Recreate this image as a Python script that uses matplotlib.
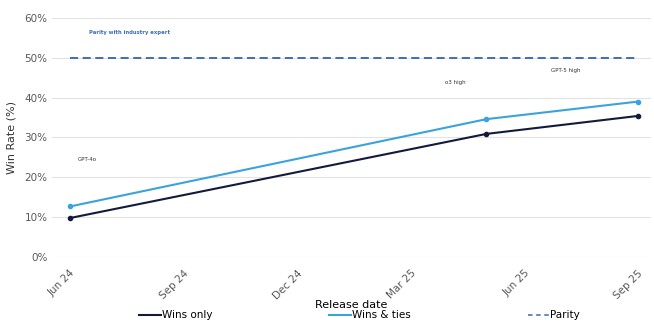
import matplotlib.pyplot as plt
from matplotlib.lines import Line2D
from matplotlib.ticker import FuncFormatter

# Months since Jun 24
months = [0, 11, 15]
models = ['GPT-4o', 'o3 high', 'GPT-5 high']
wins_only = [9.8, 30.9, 35.4]
wins_ties = [12.7, 34.6, 39.0]
parity = 50
tick_months = [0, 3, 6, 9, 12, 15]
tick_labels = ['Jun 24', 'Sep 24', 'Dec 24', 'Mar 25', 'Jun 25', 'Sep 25']

navy = '#141a3c'
light_blue = '#3ba3dc'
parity_blue = '#3462b0'
grey = '#595959'

fig = plt.figure(figsize=(6.54, 3.25), dpi=100)
ax = fig.add_axes([0.08, 0.209, 0.915, 0.736])

ax.plot(months, wins_only, color=navy, lw=1.5, marker='o', ms=3)
ax.plot(months, wins_ties, color=light_blue, lw=1.5, marker='o', ms=3)
ax.plot([months[0], months[-1]], [parity, parity], color=parity_blue, lw=1.3,
        ls=(0, (4.5, 2.5)))

# model labels
ax.text(0.2, 24.5, models[0], fontsize=4, color='#333333', ha='left', va='center')
ax.text(10.17, 43.7, models[1], fontsize=4, color='#333333', ha='center', va='center')
ax.text(13.1, 46.9, models[2], fontsize=4, color='#333333', ha='center', va='center')
ax.text(0.5, 56.3, 'Parity with industry expert', fontsize=3.8, color='#3a6cc0',
        fontweight='bold', ha='left', va='center')

ax.set_xlim(-0.47, 15.34)
ax.set_ylim(0, 60)
ax.set_yticks(range(0, 61, 10))
ax.yaxis.set_major_formatter(FuncFormatter(lambda v, p: f'{v:.0f}%'))
ax.set_xticks(tick_months)
ax.set_xticklabels(tick_labels, rotation=45, ha='right', rotation_mode='anchor')
ax.tick_params(axis='both', length=0, labelsize=7.5, labelcolor=grey)
ax.tick_params(axis='x', pad=8)
ax.grid(axis='y', color='#e3e3e3', lw=0.8)
ax.set_axisbelow(True)
for s in ax.spines.values():
    s.set_visible(False)

ax.set_ylabel('Win Rate (%)', fontsize=8, color='#333333', labelpad=6)
ax.set_xlabel('Release date', fontsize=8, color='black', labelpad=-1)

handles = [Line2D([], [], color=navy, lw=1.5),
           Line2D([], [], color=light_blue, lw=1.5),
           Line2D([], [], color='#5b7fc0', lw=1.3, ls=(0, (2.5, 2)))]
fig.legend(handles, ['Wins only', 'Wins & ties', 'Parity'], loc='lower center',
           bbox_to_anchor=(0.55, -0.015), ncol=3, frameon=False,
           fontsize=7.5, columnspacing=11.2, handlelength=2.1, handletextpad=0.1)

fig.savefig('out.png', dpi=100)
